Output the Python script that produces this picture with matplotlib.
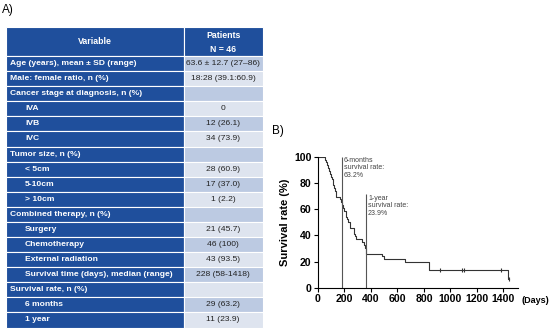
import matplotlib
matplotlib.use("Agg")
import matplotlib.pyplot as plt
from matplotlib.patches import Rectangle

plt.rcParams['font.family'] = ['Liberation Sans', 'DejaVu Sans']

# table contents: (label, value, indented)
row_labels = ["Age (years), mean \u00b1 SD (range)", "Male: female ratio, n (%)",
              "Cancer stage at diagnosis, n (%)", "IVA", "IVB", "IVC",
              "Tumor size, n (%)", "< 5cm", "5-10cm", "> 10cm",
              "Combined therapy, n (%)", "Surgery", "Chemotherapy", "External radiation",
              "Survival time (days), median (range)", "Survival rate, n (%)",
              "6 months", "1 year"]
row_values = ["63.6 \u00b1 12.7 (27\u201386)", "18:28 (39.1:60.9)", "", "0", "12 (26.1)",
              "34 (73.9)", "", "28 (60.9)", "17 (37.0)", "1 (2.2)", "", "21 (45.7)",
              "46 (100)", "43 (93.5)", "228 (58-1418)", "", "29 (63.2)", "11 (23.9)"]
row_indent = [0, 0, 0, 1, 1, 1, 0, 1, 1, 1, 0, 1, 1, 1, 1, 0, 1, 1]

# Kaplan-Meier curve
km_days = [0, 55, 62, 70, 78, 85, 92, 98, 105, 110, 115, 120, 128, 135, 165, 172,
           180, 190, 200, 208, 215, 222, 230, 238, 245, 270, 280, 290, 330, 345,
           352, 360, 365, 480, 500, 660, 840, 1435, 1440]
km_surv = [100, 97.8, 95.7, 93.5, 91.3, 89.1, 87.0, 84.8, 82.6, 80.4, 78.3, 76.1,
           73.9, 69.6, 67.4, 65.2, 63.0, 60.9, 58.7, 56.5, 54.3, 52.2, 50.0, 47.8,
           45.7, 41.3, 39.1, 37.0, 34.8, 32.6, 30.4, 28.3, 26.1, 23.9, 21.7, 19.6,
           13.5, 7.0, 7.0]
censor_days = [920, 1090, 1100, 1380, 1440]
censor_surv = [13.5, 13.5, 13.5, 13.5, 7.0]

DARK = "#1f4f9c"
MED = "#bccae2"
LIGHT = "#dee4ef"

fig = plt.figure(figsize=(5.5, 3.31), dpi=100)

# --- panel A: table drawn in pixel coordinates
ax_t = fig.add_axes([0, 0, 1, 1])
ax_t.set_xlim(0, 550)
ax_t.set_ylim(331, 0)
ax_t.axis('off')

x0, x1, x2 = 6, 183.5, 263
hdr_top, hdr_bot = 27, 56
row_h = (327.5 - hdr_bot) / len(row_labels)

ax_t.text(2, 9.5, "A)", fontsize=8.5, va='center', ha='left')
ax_t.add_patch(Rectangle((x0, hdr_top), x1 - x0, hdr_bot - hdr_top, fc=DARK, ec='white', lw=0.8))
ax_t.add_patch(Rectangle((x1, hdr_top), x2 - x1, hdr_bot - hdr_top, fc=DARK, ec='white', lw=0.8))
ax_t.text((x0 + x1) / 2, 42, "Variable", color='white', fontsize=6.3, fontweight='bold',
          ha='center', va='center')
ax_t.text((x1 + x2) / 2, 35, "Patients", color='white', fontsize=6.3, fontweight='bold',
          ha='center', va='center')
ax_t.text((x1 + x2) / 2, 50, "N = 46", color='white', fontsize=6.3, fontweight='bold',
          ha='center', va='center')

for i, (lab, val, ind) in enumerate(zip(row_labels, row_values, row_indent)):
    y = hdr_bot + i * row_h
    ax_t.add_patch(Rectangle((x0, y), x1 - x0, row_h, fc=DARK, ec='white', lw=0.8))
    ax_t.add_patch(Rectangle((x1, y), x2 - x1, row_h, fc=MED if i % 2 == 0 else LIGHT,
                             ec='white', lw=0.8))
    ax_t.text(x0 + 4 + ind * 15, y + row_h / 2, lab, color='white', fontsize=6.1,
              fontweight='bold', ha='left', va='center')
    ax_t.text((x1 + x2) / 2, y + row_h / 2, val, color='#222222', fontsize=6.1,
              ha='center', va='center')

ax_t.text(272, 131, "B)", fontsize=8.5, va='center', ha='left')

# --- panel B: survival curve
ax = fig.add_axes([318 / 550, 1 - 287.7 / 331, 200 / 550, 131 / 331])
ax.step(km_days, km_surv, where='post', color='#333333', lw=0.8)
ax.plot(censor_days, censor_surv, ls='none', marker='|', ms=3, mew=0.8, color='#333333')
ax.vlines([180], 0, 100, color='#555555', lw=0.8)
ax.vlines([365], 0, 71.5, color='#555555', lw=0.8)
ax.text(193, 100, "6-months\nsurvival rate:\n63.2%", fontsize=5, color='#444444',
        va='top', ha='left', linespacing=1.15)
ax.text(378, 71, "1-year\nsurvival rate:\n23.9%", fontsize=5, color='#444444',
        va='top', ha='left', linespacing=1.15)

ax.set_xlim(0, 1510)
ax.set_ylim(0, 100)
ax.set_xticks(range(0, 1401, 200))
ax.set_yticks(range(0, 101, 20))
ax.spines['top'].set_visible(False)
ax.spines['right'].set_visible(False)
ax.tick_params(direction='out', length=3, width=0.8, labelsize=7.6, pad=1.5)
for lbl in ax.get_xticklabels() + ax.get_yticklabels():
    lbl.set_fontweight('bold')
ax.set_ylabel("Survival rate (%)", fontsize=8, fontweight='bold', labelpad=3)
ax.text(1.02, -0.1, "(Days)", transform=ax.transAxes, fontsize=6.5, fontweight='bold',
        ha='left', va='center')

fig.savefig("out.png", dpi=100)
